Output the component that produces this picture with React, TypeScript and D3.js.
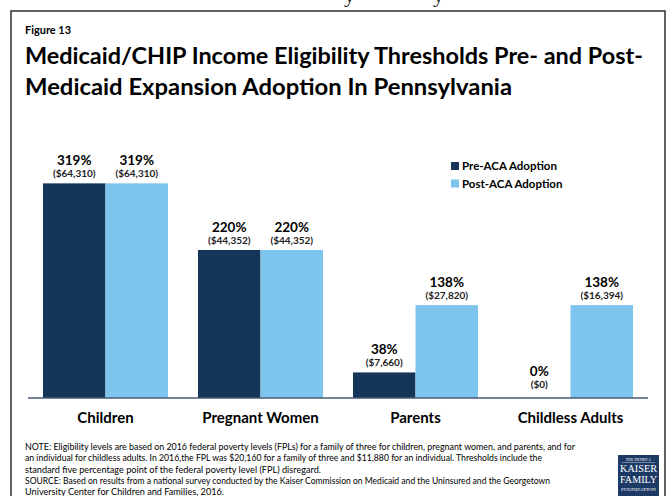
import React from 'react';
import * as d3 from 'd3';

const categories = ['Children', 'Pregnant Women', 'Parents', 'Childless Adults'];
const seriesNames = ['Pre-ACA Adoption', 'Post-ACA Adoption'];
const preValues = [319, 220, 38, 0];
const postValues = [319, 220, 138, 138];
const preDollars = ['($64,310)', '($44,352)', '($7,660)', '($0)'];
const postDollars = ['($64,310)', '($44,352)', '($27,820)', '($16,394)'];
const seriesColors = ['#163659', '#7DC5EC'];
const figureLabel = 'Figure 13';
const titleLines = [
  'Medicaid/CHIP Income Eligibility Thresholds Pre- and Post-',
  'Medicaid Expansion Adoption In Pennsylvania',
];
const noteLines = [
  'NOTE: Eligibility levels are based on 2016 federal poverty levels (FPLs) for a family of three for children, pregnant women, and parents, and for',
  'an individual for childless adults. In 2016,the FPL was $20,160 for a family of three and $11,880 for an individual. Thresholds include the',
  'standard five percentage point of the federal poverty level (FPL) disregard.',
  'SOURCE: Based on  results from a national survey conducted by the Kaiser Commission on Medicaid and the Uninsured and the Georgetown',
  'University Center for Children and Families, 2016.',
];
const noteWidths = [550, 517, 296, 525, 199];

const W = 668;
const H = 496;
const FONT = 'Lato, "Open Sans", sans-serif';

export default function App() {
  const x0 = d3.scaleBand<string>().domain(categories).range([28, 648]);
  const x1 = d3.scaleBand<string>().domain(seriesNames).range([15, 140]);
  const y = d3.scaleLinear().domain([0, 350]).range([398, 162.5]);
  const valueSets = [preValues, postValues];
  const dollarSets = [preDollars, postDollars];

  return (
    <svg width={W} height={H} style={{ position: 'absolute', left: 0, top: 0, background: '#fff' }} fontFamily={FONT}>
      <rect x={0} y={0} width={W} height={H} fill="#fff" />
      {/* clipped descenders from the page above */}
      <text x={344} y={2} fontFamily="'Liberation Serif', serif" fontSize={22} fill="#222">y</text>
      <text x={433} y={2} fontFamily="'Liberation Serif', serif" fontSize={22} fill="#222">y</text>
      {/* frame */}
      <rect x={11} y={11} width={654} height={H + 20} fill="none" stroke="#3a3a3a" strokeWidth={1.6} />
      <text x={25} y={33.5} fontSize={10.5} fontWeight={700} fill="#000" textLength={46} lengthAdjust="spacingAndGlyphs">{figureLabel}</text>
      {titleLines.map((t, i) => (
        <text key={i} x={25} y={64 + i * 31} fontSize={22} fontWeight={700} fill="#000"
          textLength={i === 0 ? 618 : 487} lengthAdjust="spacingAndGlyphs">{t}</text>
      ))}
      {/* bars */}
      {categories.map((c, ci) => (
        <g key={c} transform={`translate(${x0(c)},0)`}>
          {seriesNames.map((s, si) => {
            const v = valueSets[si][ci];
            const bx = x1(s)!;
            const bw = x1.bandwidth();
            const top = y(v);
            const anchor = Math.min(top, y(0) - 4);
            return (
              <g key={s}>
                {v > 0 && (
                  <rect x={bx} y={top} width={bw} height={y(0) - top} fill={seriesColors[si]} />
                )}
                <text x={bx + bw / 2} y={anchor - 18} textAnchor="middle" fontSize={13.5} fontWeight={700} fill="#000">{v}%</text>
                <text x={bx + bw / 2} y={anchor - 6} textAnchor="middle" fontSize={10} fontWeight={700} fill="#222">{dollarSets[si][ci]}</text>
              </g>
            );
          })}
          <text x={x0.bandwidth() / 2} y={423} textAnchor="middle" fontSize={15} fontWeight={700} fill="#000">{c}</text>
        </g>
      ))}
      {/* baseline */}
      <line x1={28} x2={648} y1={398} y2={398} stroke="#4a5a75" strokeWidth={1.5} />
      {/* legend */}
      {seriesNames.map((s, i) => (
        <g key={s} transform={`translate(451,${162 + i * 17.5})`}>
          <rect x={0} y={0} width={8} height={8} fill={seriesColors[i]} />
          <text x={11} y={8} fontSize={11.5} fontWeight={700} fill="#000">{s}</text>
        </g>
      ))}
      {/* notes */}
      {noteLines.map((t, i) => (
        <text key={i} x={25} y={450 + i * 11.3} fontSize={9} fill="#000"
          textLength={noteWidths[i]} lengthAdjust="spacingAndGlyphs">{t}</text>
      ))}
      {/* logo */}
      <g transform="translate(618,455)">
        <rect x={0} y={0} width={41} height={45} fill="#1d3a66" />
        <text x={20.5} y={6} textAnchor="middle" fontSize={4} fill="#fff" fontFamily="'Liberation Serif', serif">THE HENRY J.</text>
        <line x1={4} x2={37} y1={7.5} y2={7.5} stroke="#fff" strokeWidth={0.4} />
        <text x={20.5} y={17} textAnchor="middle" fontSize={11} fill="#fff" fontFamily="'Liberation Serif', serif" textLength={37} lengthAdjust="spacingAndGlyphs">KAISER</text>
        <text x={20.5} y={28} textAnchor="middle" fontSize={11} fill="#fff" fontFamily="'Liberation Serif', serif" textLength={37} lengthAdjust="spacingAndGlyphs">FAMILY</text>
        <text x={20.5} y={36} textAnchor="middle" fontSize={4.5} fill="#fff" fontFamily="'Liberation Serif', serif" textLength={35} lengthAdjust="spacingAndGlyphs">FOUNDATION</text>
      </g>
    </svg>
  );
}
